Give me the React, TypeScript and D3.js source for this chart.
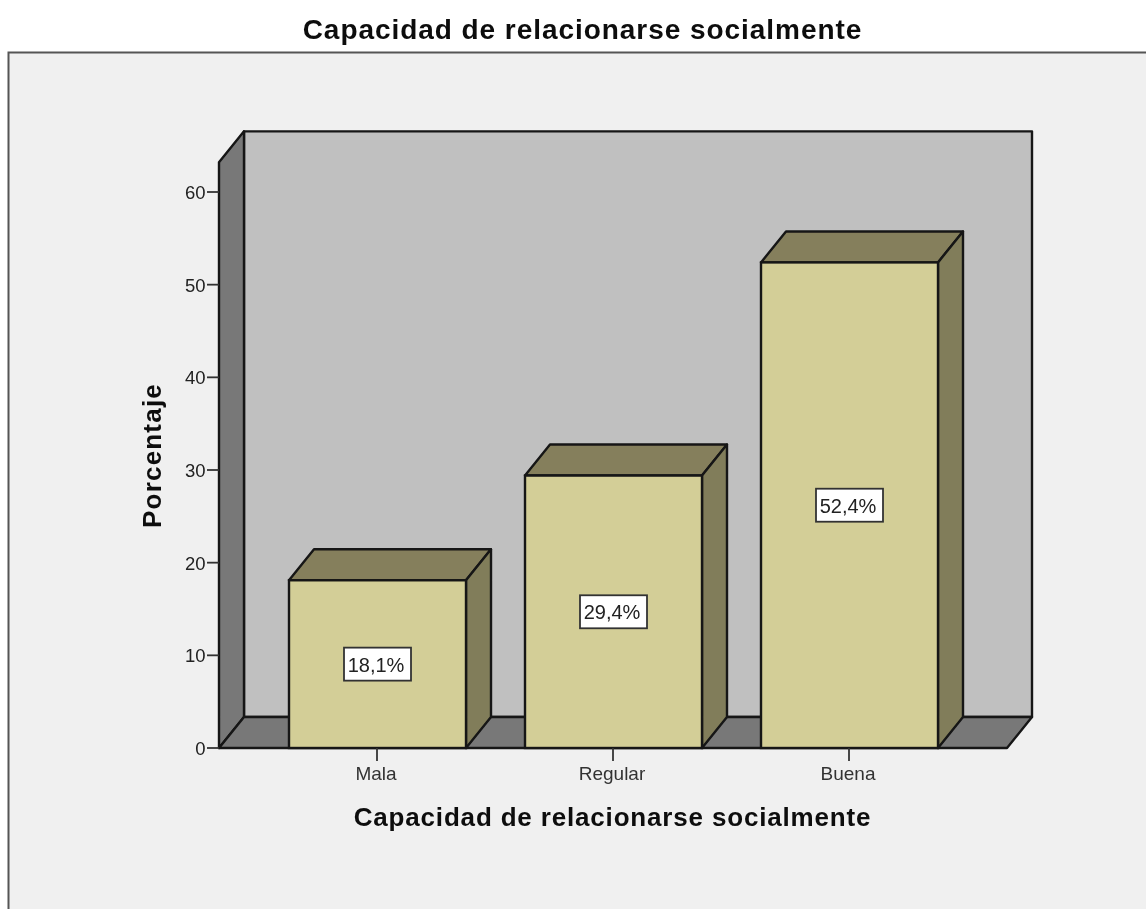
import React from "react";
import * as d3 from "d3";

const categories = ["Mala", "Regular", "Buena"];
const percentages = [18.1, 29.4, 52.4];
const percentLabels = ["18,1%", "29,4%", "52,4%"];
const yTicks = [0, 10, 20, 30, 40, 50, 60];
const chartTitle = "Capacidad de relacionarse socialmente";
const yTitle = "Porcentaje";

const FONT = "'Liberation Sans', Arial, sans-serif";
const INK = "#161616";
const SW = 2.4;
const DX = 25;
const DY = -31;
const x0 = 219;
const x1 = 1007;
const y = d3.scaleLinear().domain([0, 60]).range([748, 192]);
const yTop = y(63.2);
const x = d3.scaleBand().domain(categories).range([259.5, 967.5]);
const barW = x.bandwidth() * 0.75;

const poly = (pts: [number, number][]) => d3.line()(pts) + "Z";

export default function App() {
  const y0 = y(0);
  return (
    <svg
      width={1146}
      height={909}
      viewBox="0 0 1146 909"
      style={{ position: "absolute", left: 0, top: 0, display: "block" }}
      fontFamily={FONT}
    >
      <defs>
        <filter id="soft" x="-2%" y="-2%" width="104%" height="104%">
          <feGaussianBlur stdDeviation="0.5" />
        </filter>
      </defs>
      <rect width={1146} height={909} fill="#ffffff" />
      <g filter="url(#soft)">
        <rect x={8.5} y={52.5} width={1150} height={880} fill="#f0f0f0" stroke="#555" strokeWidth={2} />
        <text x={582.5} y={39} textAnchor="middle" fontSize={28} fontWeight={700} fill="#111" letterSpacing={0.95}>
          {chartTitle}
        </text>

        {/* walls */}
        <path
          d={poly([[x0 + DX, yTop + DY], [x1 + DX, yTop + DY], [x1 + DX, y0 + DY], [x0 + DX, y0 + DY]])}
          fill="#c0c0c0" stroke={INK} strokeWidth={SW} strokeLinejoin="round"
        />
        <path
          d={poly([[x0, yTop], [x0 + DX, yTop + DY], [x0 + DX, y0 + DY], [x0, y0]])}
          fill="#787878" stroke={INK} strokeWidth={SW} strokeLinejoin="round"
        />
        <path
          d={poly([[x0, y0], [x0 + DX, y0 + DY], [x1 + DX, y0 + DY], [x1, y0]])}
          fill="#787878" stroke={INK} strokeWidth={SW} strokeLinejoin="round"
        />

        {/* y axis */}
        {yTicks.map((t) => (
          <g key={t}>
            <line x1={x0 - 12} x2={x0} y1={y(t)} y2={y(t)} stroke="#333" strokeWidth={1.8} />
            <text x={x0 - 13.5} y={y(t) + 7} textAnchor="end" fontSize={18.5} fill="#222">{t}</text>
          </g>
        ))}
        <text
          transform={`translate(161,455.5) rotate(-90)`}
          textAnchor="middle" fontSize={26} fontWeight={700} fill="#111" letterSpacing={1.2}
        >
          {yTitle}
        </text>

        {/* bars */}
        {categories.map((c, i) => {
          const left = x(c)! + (x.bandwidth() - barW) / 2;
          const right = left + barW;
          const top = y(percentages[i]);
          const cx = left + barW / 2;
          const cy = (top + y0) / 2;
          return (
            <g key={c}>
              <path
                d={poly([[left, top], [left + DX, top + DY], [right + DX, top + DY], [right, top]])}
                fill="#857f5c" stroke={INK} strokeWidth={SW} strokeLinejoin="round"
              />
              <path
                d={poly([[right, top], [right + DX, top + DY], [right + DX, y0 + DY], [right, y0]])}
                fill="#817d5a" stroke={INK} strokeWidth={SW} strokeLinejoin="round"
              />
              <rect x={left} y={top} width={barW} height={y0 - top} fill="#d3ce97" stroke={INK} strokeWidth={SW} />
              <rect x={cx - 33.5} y={cy - 16.5} width={67} height={33} fill="#ffffff" stroke="#333" strokeWidth={1.8} />
              <text x={cx - 1.5} y={cy + 7.5} textAnchor="middle" fontSize={20} fill="#222">{percentLabels[i]}</text>
              <line x1={cx - 0.5} x2={cx - 0.5} y1={y0} y2={y0 + 13} stroke="#333" strokeWidth={1.8} />
              <text x={cx - 1.5} y={y0 + 32} textAnchor="middle" fontSize={19} fill="#333">{c}</text>
            </g>
          );
        })}

        <text x={612.5} y={826} textAnchor="middle" fontSize={26} fontWeight={700} fill="#111" letterSpacing={0.83}>
          {chartTitle}
        </text>
      </g>
    </svg>
  );
}
